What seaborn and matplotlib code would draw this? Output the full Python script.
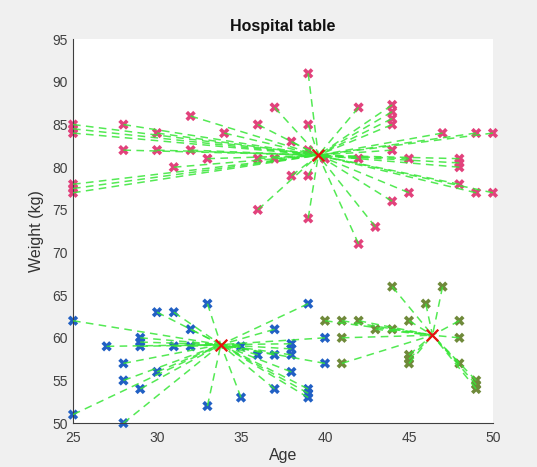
import matplotlib
matplotlib.use("Agg")
import matplotlib.pyplot as plt
import seaborn as sns
import pandas as pd

# cluster 1 (pink)
pink_age = [25, 25, 25, 25, 25, 25, 28, 28, 30, 30, 31, 32, 32, 33, 34, 36, 36, 36,
            37, 37, 38, 38, 39, 39, 39, 39, 39, 40, 42, 42, 42, 43, 44, 44, 44, 44,
            44, 44, 45, 45, 47, 48, 48, 48, 48, 49, 49, 50, 50]
pink_weight = [85, 84.5, 84, 78, 77.5, 77, 85, 82, 84, 82, 80, 86, 82, 81, 84, 85, 81, 75,
               87, 81, 83, 79, 91, 85, 82, 79, 74, 81, 87, 81, 71, 73, 87.3, 86.5, 85.7, 85,
               82, 76, 81, 77, 84, 81, 80.5, 80, 78, 84, 77, 84, 77]

# cluster 2 (blue)
blue_age = [25, 25, 27, 28, 28, 28, 29, 29, 29, 29, 30, 30, 31, 31, 32, 32, 33, 33,
            35, 35, 36, 37, 37, 37, 38, 38, 38, 38, 39, 39, 39, 39, 40, 40]
blue_weight = [62, 51, 59, 57, 55, 50, 60, 59.5, 59, 54, 63, 56, 63, 59, 61, 59, 64, 52,
               59, 53, 58, 61, 58, 54, 59.3, 58.7, 58, 56, 64, 54, 53.5, 53, 60, 57]

# cluster 3 (olive)
olive_age = [40, 41, 41, 41, 42, 43, 44, 44, 45, 45, 45, 45, 46, 47, 48, 48, 48, 49, 49, 49]
olive_weight = [62, 62, 60, 57, 62, 61, 66, 61, 62, 58, 57.5, 57, 64, 66, 62, 60, 57, 55, 54.5, 54]

# centroids
centroid_age = [39.6, 33.8, 46.4]
centroid_weight = [81.4, 59.2, 60.3]

clusters = ["1", "2", "3"]
colors = {"1": "#e2427c", "2": "#2160c4", "3": "#6f8a3a"}

df = pd.concat([
    pd.DataFrame({"Age": pink_age, "Weight": pink_weight, "cluster": "1"}),
    pd.DataFrame({"Age": blue_age, "Weight": blue_weight, "cluster": "2"}),
    pd.DataFrame({"Age": olive_age, "Weight": olive_weight, "cluster": "3"}),
], ignore_index=True)

sns.set_style("white")
plt.rcParams["font.family"] = ["Liberation Sans", "DejaVu Sans"]

fig = plt.figure(figsize=(5.37, 4.67), dpi=100, facecolor="#f0f0f0")
ax = fig.add_axes([0.136, 0.094, 0.782, 0.822])
ax.set_facecolor("white")

sns.scatterplot(data=df, x="Age", y="Weight", hue="cluster", palette=colors,
                marker="X", s=55, linewidth=0, legend=False, ax=ax, zorder=2,
                clip_on=False)

# dashed lines from each point to its centroid
for i, c in enumerate(clusters):
    sub = df[df["cluster"] == c]
    for a, w in zip(sub["Age"], sub["Weight"]):
        ax.plot([a, centroid_age[i]], [w, centroid_weight[i]], ls=(0, (5, 3.5)),
                color="#36e636", lw=1.1, alpha=0.85, zorder=3)

ax.scatter(centroid_age, centroid_weight, marker="x", s=70, color="#e81010",
           linewidths=1.6, zorder=4)

ax.set_xlim(25, 50)
ax.set_ylim(50, 95)
ax.set_xticks(range(25, 51, 5))
ax.set_yticks(range(50, 96, 5))
ax.tick_params(direction="in", length=4, width=0.8, colors="#404040",
               labelsize=10, labelcolor="#404040")
ax.tick_params(axis="x", pad=6)
ax.tick_params(axis="y", pad=4)
for side in ["top", "right"]:
    ax.spines[side].set_visible(False)
for side in ["left", "bottom"]:
    ax.spines[side].set_color("#404040")
    ax.spines[side].set_linewidth(0.8)

ax.set_title("Hospital table", fontsize=11.5, fontweight="bold", color="#111111", pad=6)
ax.set_xlabel("Age", fontsize=11.5, color="#333333", labelpad=2)
ax.set_ylabel("Weight (kg)", fontsize=11.5, color="#333333", labelpad=6)

fig.savefig("out.png", dpi=100, facecolor=fig.get_facecolor())
